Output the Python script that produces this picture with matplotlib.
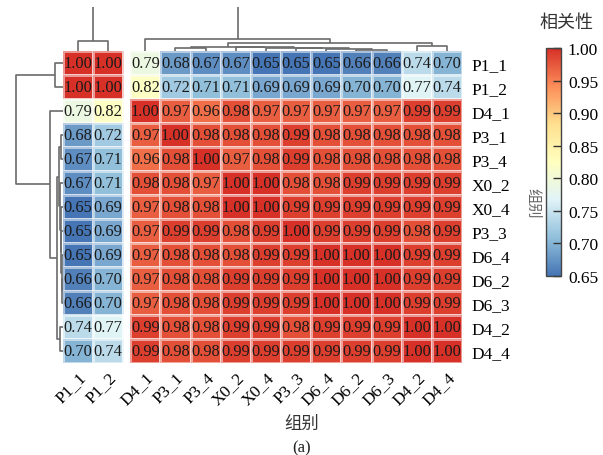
import numpy as np
import matplotlib
matplotlib.use('Agg')
import matplotlib.pyplot as plt
from matplotlib.colors import LinearSegmentedColormap, Normalize
from matplotlib.cm import ScalarMappable

# groups in clustered display order (same for rows and columns)
groups = ['P1_1', 'P1_2', 'D4_1', 'P3_1', 'P3_4', 'X0_2', 'X0_4',
          'P3_3', 'D6_4', 'D6_2', 'D6_3', 'D4_2', 'D4_4']

# correlation matrix, one list per row
r_P1_1 = [1.00, 1.00, 0.79, 0.68, 0.67, 0.67, 0.65, 0.65, 0.65, 0.66, 0.66, 0.74, 0.70]
r_P1_2 = [1.00, 1.00, 0.82, 0.72, 0.71, 0.71, 0.69, 0.69, 0.69, 0.70, 0.70, 0.77, 0.74]
r_D4_1 = [0.79, 0.82, 1.00, 0.97, 0.96, 0.98, 0.97, 0.97, 0.97, 0.97, 0.97, 0.99, 0.99]
r_P3_1 = [0.68, 0.72, 0.97, 1.00, 0.98, 0.98, 0.98, 0.99, 0.98, 0.98, 0.98, 0.98, 0.98]
r_P3_4 = [0.67, 0.71, 0.96, 0.98, 1.00, 0.97, 0.98, 0.99, 0.98, 0.98, 0.98, 0.98, 0.98]
r_X0_2 = [0.67, 0.71, 0.98, 0.98, 0.97, 1.00, 1.00, 0.98, 0.98, 0.99, 0.99, 0.99, 0.99]
r_X0_4 = [0.65, 0.69, 0.97, 0.98, 0.98, 1.00, 1.00, 0.99, 0.99, 0.99, 0.99, 0.99, 0.99]
r_P3_3 = [0.65, 0.69, 0.97, 0.99, 0.99, 0.98, 0.99, 1.00, 0.99, 0.99, 0.99, 0.98, 0.99]
r_D6_4 = [0.65, 0.69, 0.97, 0.98, 0.98, 0.98, 0.99, 0.99, 1.00, 1.00, 1.00, 0.99, 0.99]
r_D6_2 = [0.66, 0.70, 0.97, 0.98, 0.98, 0.99, 0.99, 0.99, 1.00, 1.00, 1.00, 0.99, 0.99]
r_D6_3 = [0.66, 0.70, 0.97, 0.98, 0.98, 0.99, 0.99, 0.99, 1.00, 1.00, 1.00, 0.99, 0.99]
r_D4_2 = [0.74, 0.77, 0.99, 0.98, 0.98, 0.99, 0.99, 0.98, 0.99, 0.99, 0.99, 1.00, 1.00]
r_D4_4 = [0.70, 0.74, 0.99, 0.98, 0.98, 0.99, 0.99, 0.99, 0.99, 0.99, 0.99, 1.00, 1.00]

# dendrogram merges: (left node, right node, height); leaves are 0..12, new nodes 13..
col_merges = [(9, 10, 1.5), (8, 13, 2.0), (7, 14, 2.6), (6, 15, 3.2), (5, 16, 3.8),
              (3, 4, 3.0), (18, 17, 4.5), (11, 12, 5.0), (19, 20, 8.0),
              (2, 21, 12.0), (0, 1, 10.0), (23, 22, 47.0)]
row_merges = [(9, 10, 1.0), (8, 13, 1.5), (7, 14, 2.0), (6, 15, 2.5), (5, 16, 3.0),
              (3, 4, 2.0), (18, 17, 4.0), (11, 12, 3.0), (19, 20, 6.0),
              (2, 21, 13.0), (0, 1, 8.0), (23, 22, 47.0)]

cbar_ticks = [0.65, 0.70, 0.75, 0.80, 0.85, 0.90, 0.95, 1.00]

data = np.array([r_P1_1, r_P1_2, r_D4_1, r_P3_1, r_P3_4, r_X0_2, r_X0_4,
                 r_P3_3, r_D6_4, r_D6_2, r_D6_3, r_D4_2, r_D4_4])
n = len(groups)

cmap = LinearSegmentedColormap.from_list(
    'rdylbu', ['#4575B4', '#91BFDB', '#E0F3F8', '#FFFFBF', '#FEE090', '#FC8D59', '#D73027'])
norm = Normalize(vmin=0.65, vmax=1.00)

# column split after P1_2: a masked column makes the white gap
gap = 0.23
xe = np.array([0, 1, 2, 2 + gap] + [j + gap for j in range(3, n + 1)])
mesh = np.ma.masked_all((n, n + 1))
mesh[:, :2] = data[:, :2]
mesh[:, 3:] = data[:, 2:]
col_centers = np.array([j + 0.5 if j < 2 else j + 0.5 + gap for j in range(n)])
row_centers = np.arange(n) + 0.5

W, H = 603, 456
fig = plt.figure(figsize=(W / 100, H / 100), dpi=100)


def fx(px):
    return px / W


def fy(py):
    return 1 - py / H


hm_l, hm_r, hm_t, hm_b = 63, 462, 52, 364
ax = fig.add_axes([fx(hm_l), fy(hm_b), fx(hm_r - hm_l), (hm_b - hm_t) / H])
ax.pcolormesh(xe, np.arange(n + 1), mesh, cmap=cmap, norm=norm,
              edgecolors=(1, 1, 1, 0.5), linewidth=0.9)
ax.set_xlim(0, n + gap)
ax.set_ylim(n, 0)
for s in ax.spines.values():
    s.set_visible(False)
for i in range(n):
    for j in range(n):
        ax.text(col_centers[j], row_centers[i], '%.2f' % data[i, j], ha='center', va='center',
                fontsize=11.8, family='Liberation Serif', color='#1a1a1a')
ax.set_xticks(col_centers)
ax.set_xticklabels(groups, rotation=45, ha='right', va='top', rotation_mode='anchor',
                   family='Liberation Serif', fontsize=12.5)
ax.set_yticks(row_centers)
ax.set_yticklabels(groups, family='Liberation Serif', fontsize=12.5)
ax.yaxis.tick_right()
ax.tick_params(axis='x', length=0, pad=4)
ax.tick_params(axis='y', length=0, pad=7)


def dendro_lines(merges, centers):
    pos = {i: centers[i] for i in range(n)}
    hgt = {i: 0.0 for i in range(n)}
    segs = []
    node = n
    for a, b, h in merges:
        segs.append(([pos[a], pos[a], pos[b], pos[b]], [hgt[a], h, h, hgt[b]]))
        pos[node] = (pos[a] + pos[b]) / 2
        hgt[node] = h
        node += 1
    return segs


# column dendrogram on top
axc = fig.add_axes([fx(hm_l), fy(hm_t), fx(hm_r - hm_l), (hm_t - 8) / H])
for xs, ys in dendro_lines(col_merges, col_centers):
    axc.plot(xs, ys, color='#6b6b6b', lw=1.2, solid_capstyle='butt')
axc.set_xlim(0, n + gap)
axc.set_ylim(0, hm_t - 8)
axc.axis('off')

# row dendrogram on the left
axr = fig.add_axes([0, fy(hm_b), fx(hm_l), (hm_b - hm_t) / H])
for xs, ys in dendro_lines(row_merges, row_centers):
    axr.plot(ys, xs, color='#6b6b6b', lw=1.2, solid_capstyle='butt')
axr.set_xlim(hm_l, 0)
axr.set_ylim(n, 0)
axr.axis('off')

# colour legend
cax = fig.add_axes([fx(546), fy(277), fx(15), (277 - 49) / H])
cb = fig.colorbar(ScalarMappable(norm=norm, cmap=cmap), cax=cax, ticks=cbar_ticks)
cb.outline.set_edgecolor('#444444')
cb.outline.set_linewidth(1.0)
cax.tick_params(direction='in', length=6, width=1, color='#333333', pad=5)
cb.ax.set_yticklabels(['%.2f' % t for t in cbar_ticks], family='Liberation Serif', fontsize=12.5)

cjk = ['Noto Sans CJK SC', 'DejaVu Sans']
fig.text(fx(566), fy(23), '相关性', ha='center', va='center', fontsize=13, family=cjk, color='#333333')
fig.text(fx(533), fy(203), '组别', ha='center', va='center', rotation=270, fontsize=11,
         family=cjk, color='#666666')
fig.text(fx(302), fy(424), '组别', ha='center', va='center', fontsize=12.5, family=cjk, color='#333333')
fig.text(fx(302), fy(448), '(a)', ha='center', va='center', fontsize=12, family='Liberation Serif',
         color='#222222')

fig.savefig('out.png', dpi=100)
